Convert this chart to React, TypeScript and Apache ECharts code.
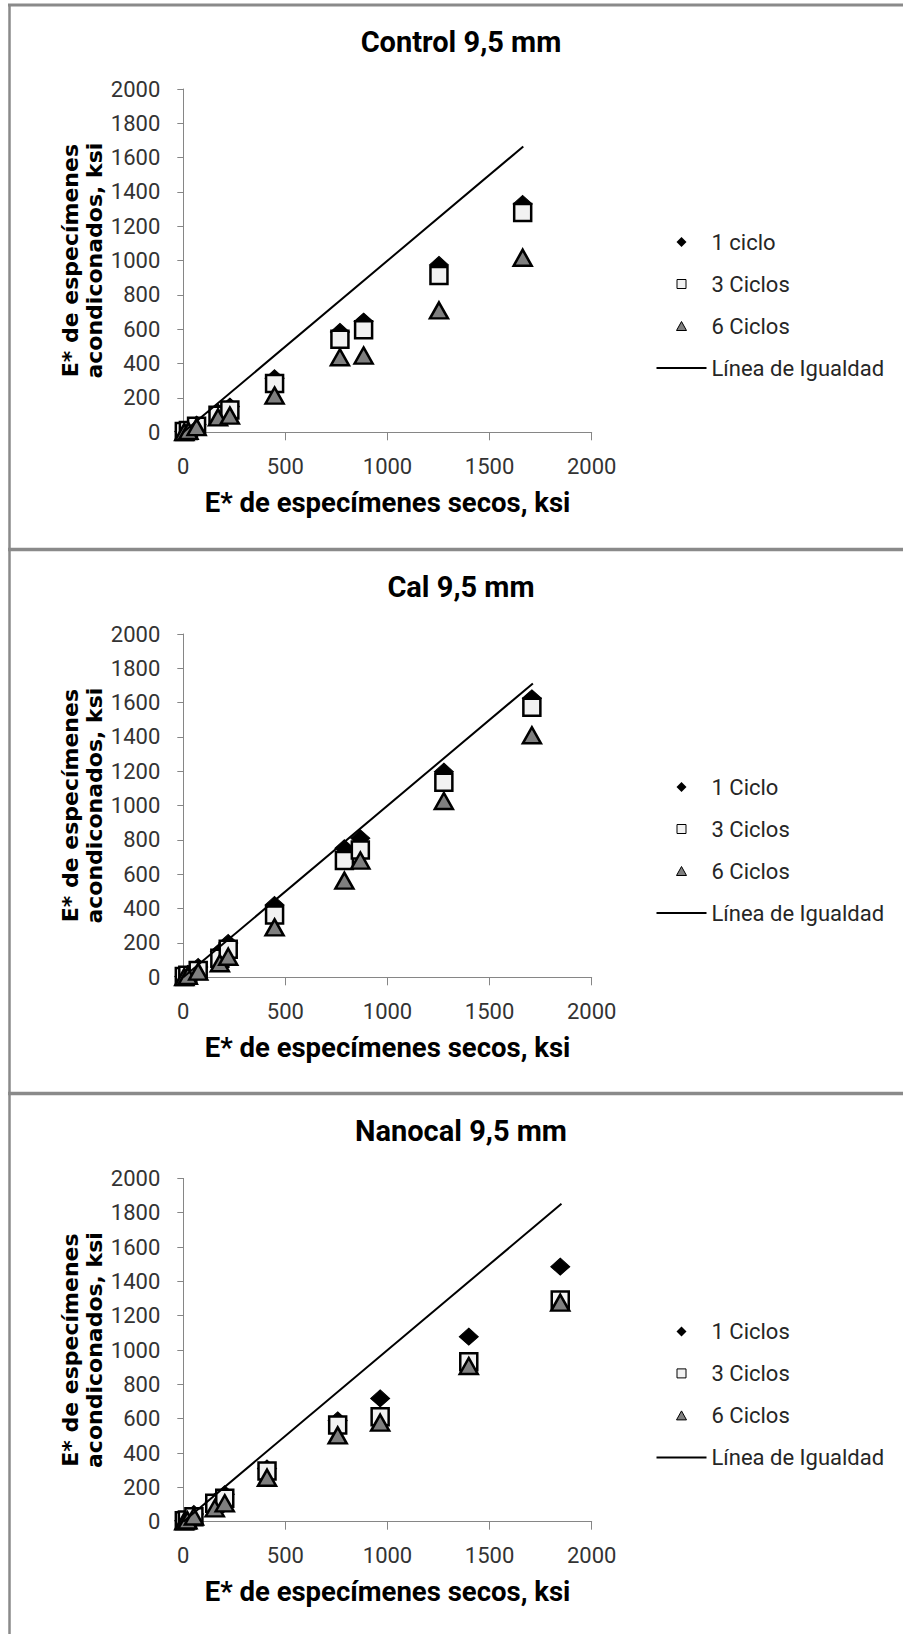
import React, { useEffect, useRef } from "react";
import * as echarts from "echarts";

// ---------- Data ----------
const panelTitles = ["Control 9,5 mm", "Cal 9,5 mm", "Nanocal 9,5 mm"];
const oneCycleNames = ["1 ciclo", "1 Ciclo", "1 Ciclos"];
const threeCycleName = "3 Ciclos";
const sixCycleName = "6 Ciclos";
const equalityName = "Línea de Igualdad";
const xAxisTitle = "E* de especímenes secos, ksi";
const yAxisTitle = "E* de especímenes\nacondiconados, ksi";

const axisMin = 0;
const axisMax = 2000;
const xInterval = 500;
const yInterval = 200;

// Control 9,5 mm
const controlDry = [5, 25, 65, 170, 228, 447, 767, 883, 1252, 1662];
const control1 = [5, 15, 45, 115, 150, 315, 585, 645, 975, 1330];
const control3 = [5, 10, 35, 100, 130, 285, 542, 598, 913, 1280];
const control6 = [2, 8, 30, 87, 97, 214, 437, 447, 710, 1017];
const controlEquality = [[0, 0], [1665, 1665]];

// Cal 9,5 mm
const calDry = [5, 22, 73, 179, 220, 447, 789, 867, 1276, 1707];
const cal1 = [5, 20, 60, 150, 200, 421, 752, 810, 1198, 1625];
const cal3 = [5, 12, 39, 111, 163, 363, 680, 742, 1136, 1573];
const cal6 = [2, 8, 33, 82, 120, 291, 563, 680, 1027, 1410];
const calEquality = [[0, 0], [1712, 1712]];

// Nanocal 9,5 mm
const nanoDry = [5, 20, 52, 154, 203, 410, 756, 964, 1398, 1846];
const nano1 = [5, 15, 45, 115, 160, 310, 590, 718, 1078, 1486];
const nano3 = [5, 10, 29, 107, 136, 295, 563, 612, 932, 1291];
const nano6 = [2, 8, 30, 78, 107, 256, 503, 577, 907, 1276];
const nanoEquality = [[0, 0], [1852, 1852]];

const panels = [
  { dry: controlDry, c1: control1, c3: control3, c6: control6, eq: controlEquality },
  { dry: calDry, c1: cal1, c3: cal3, c6: cal6, eq: calEquality },
  { dry: nanoDry, c1: nano1, c3: nano3, c6: nano6, eq: nanoEquality },
];

// ---------- Layout ----------
const W = 903;
const H = 1634;
const panelOffsets = [0, 545, 1089.4];

// legend icons (50 x 11 box, shape centred)
const iconDiamond = "path://M0 0M50 11M25 0.5L30 5.5L25 10.5L20 5.5Z";
const iconSquare = "path://M0 0M50 11M20.5 1H29.5V10H20.5Z";
const iconTriangle = "path://M0 0M50 11M25 1L30 10H20Z";
const iconLine = "path://M0 0M50 11M0 4.5H50V6.5H0Z";

const zip = (xs: number[], ys: number[]) => xs.map((x, i) => [x, ys[i]]);

function buildOption() {
  const grid: any[] = [];
  const xAxis: any[] = [];
  const yAxis: any[] = [];
  const series: any[] = [];
  const legend: any[] = [];
  const title: any[] = [];

  const axisColor = "#868686";
  const tickFont = {
    fontFamily: "Roboto",
    fontSize: 22,
    color: "#333333",
    formatter: (v: number) => String(v),
  };

  panels.forEach((p, i) => {
    const o = panelOffsets[i];
    grid.push({ left: 183.3, top: 89 + o, width: 408.4, height: 343.3 });
    title.push({
      text: panelTitles[i],
      left: 461,
      top: 27 + o,
      textAlign: "center",
      padding: 0,
      textStyle: { fontFamily: "Roboto", fontWeight: "bold", fontSize: 29, color: "#000" },
    });
    xAxis.push({
      gridIndex: i,
      type: "value",
      min: axisMin,
      max: axisMax,
      interval: xInterval,
      axisLine: { show: true, onZero: false, lineStyle: { color: axisColor, width: 1 } },
      axisTick: { show: true, length: 8, lineStyle: { color: axisColor } },
      splitLine: { show: false },
      axisLabel: { ...tickFont, margin: 23 },
      name: xAxisTitle,
      nameLocation: "middle",
      nameGap: 56,
      nameTextStyle: { fontFamily: "Roboto", fontWeight: "bold", fontSize: 27.5, color: "#000" },
    });
    yAxis.push({
      gridIndex: i,
      type: "value",
      min: axisMin,
      max: axisMax,
      interval: yInterval,
      axisLine: { show: true, onZero: false, lineStyle: { color: axisColor, width: 1 } },
      axisTick: { show: true, length: 6, lineStyle: { color: axisColor } },
      splitLine: { show: false },
      axisLabel: { ...tickFont, margin: 23 },
      name: yAxisTitle,
      nameLocation: "middle",
      nameRotate: 90,
      nameGap: 77,
      nameTextStyle: {
        fontFamily: "DejaVu Sans",
        fontWeight: "bold",
        fontSize: 22,
        lineHeight: 24,
        color: "#000",
        align: "center",
      },
    });
    series.push({
      type: "scatter",
      name: oneCycleNames[i],
      xAxisIndex: i,
      yAxisIndex: i,
      data: zip(p.dry, p.c1),
      symbol: "diamond",
      symbolSize: [19, 17],
      itemStyle: { color: "#000", borderColor: "#000", borderWidth: 1, opacity: 1 },
      z: 2,
    });
    series.push({
      type: "scatter",
      name: threeCycleName,
      xAxisIndex: i,
      yAxisIndex: i,
      data: zip(p.dry, p.c3),
      symbol: "rect",
      symbolSize: 17,
      itemStyle: { color: "#f2f2f2", borderColor: "#000", borderWidth: 2.5, opacity: 1 },
      z: 3,
    });
    series.push({
      type: "scatter",
      name: sixCycleName,
      xAxisIndex: i,
      yAxisIndex: i,
      data: zip(p.dry, p.c6),
      symbol: "triangle",
      symbolSize: [18, 16],
      itemStyle: { color: "#7f7f7f", borderColor: "#000", borderWidth: 2.5, opacity: 1 },
      z: 4,
    });
    series.push({
      type: "line",
      name: equalityName,
      xAxisIndex: i,
      yAxisIndex: i,
      data: p.eq,
      symbol: "none",
      lineStyle: { color: "#000", width: 2 },
      itemStyle: { color: "#000" },
      z: 5,
    });
    legend.push({
      orient: "vertical",
      left: 656,
      top: 231 + o,
      padding: 0,
      itemWidth: 50,
      itemHeight: 11,
      itemGap: 20,
      selectedMode: false,
      data: [
        { name: oneCycleNames[i], icon: iconDiamond, itemStyle: { borderWidth: 0 } },
        { name: threeCycleName, icon: iconSquare, itemStyle: { borderWidth: 1, borderColor: "#000" } },
        { name: sixCycleName, icon: iconTriangle, itemStyle: { borderWidth: 1, borderColor: "#000" } },
        { name: equalityName, icon: iconLine, itemStyle: { borderWidth: 0, color: "#000" } },
      ],
      textStyle: { fontFamily: "Roboto", fontSize: 22, lineHeight: 22, color: "#262626" },
    });
  });

  const borderColor = "#8a8a8a";
  const graphic = [
    { type: "line", shape: { x1: 9.5, y1: 4, x2: 9.5, y2: H }, style: { stroke: borderColor, lineWidth: 2.5 } },
    { type: "line", shape: { x1: 8, y1: 5, x2: W, y2: 5 }, style: { stroke: borderColor, lineWidth: 3 } },
    { type: "line", shape: { x1: 8, y1: 549.5, x2: W, y2: 549.5 }, style: { stroke: borderColor, lineWidth: 3.5 } },
    { type: "line", shape: { x1: 8, y1: 1093.5, x2: W, y2: 1093.5 }, style: { stroke: borderColor, lineWidth: 3.5 } },
  ];

  return {
    animation: false,
    backgroundColor: "#ffffff",
    title,
    legend,
    grid,
    xAxis,
    yAxis,
    series,
    graphic,
  };
}

export default function App() {
  const ref = useRef<HTMLDivElement>(null);
  useEffect(() => {
    if (!ref.current) return;
    const chart = echarts.init(ref.current, undefined, { renderer: "svg" });
    chart.setOption(buildOption() as any);
    return () => chart.dispose();
  }, []);
  return (
    <div
      ref={ref}
      style={{ position: "absolute", left: 0, top: 0, width: W, height: H, background: "#fff" }}
    />
  );
}
